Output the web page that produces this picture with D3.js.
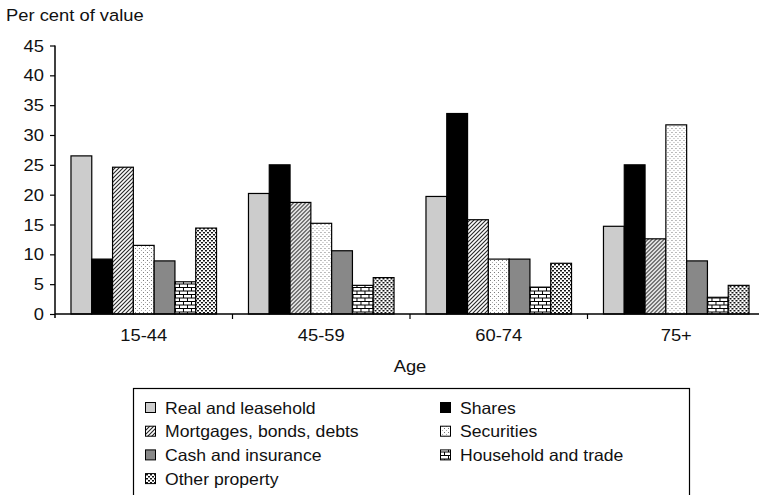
<!DOCTYPE html>
<html>
<head>
<meta charset="utf-8">
<script src="https://cdn.jsdelivr.net/npm/d3@7"></script>
<style>
  html, body { margin: 0; padding: 0; background: #fff; }
  svg { display: block; font-family: "Liberation Sans", Arial, Helvetica, sans-serif; }
</style>
</head>
<body>
<svg id="chart" width="759" height="495"></svg>
<script>
// Share of estate value by asset type, per age band
const ages = ["15-44", "45-59", "60-74", "75+"];
const seriesNames = [
  "Real and leasehold", "Shares", "Mortgages, bonds, debts", "Securities",
  "Cash and insurance", "Household and trade", "Other property"
];
const realLeasehold = [26.5, 20.2, 19.7, 14.7];
const shares        = [9.2, 25.0, 33.6, 25.0];
const mortgages     = [24.6, 18.7, 15.8, 12.6];
const securities    = [11.5, 15.2, 9.2, 31.7];
const cashInsurance = [8.9, 10.6, 9.2, 8.9];
const household     = [5.4, 4.8, 4.5, 2.8];
const otherProperty = [14.4, 6.1, 8.5, 4.8];
const yTicks = [0, 5, 10, 15, 20, 25, 30, 35, 40, 45];

const seriesValues = [realLeasehold, shares, mortgages, securities, cashInsurance, household, otherProperty];
const fills = ["#cccccc", "#000000", "url(#hatch)", "url(#sparseDots)", "#888888", "url(#brick)", "url(#denseDots)"];

const svg = d3.select("#chart");
const TX = 1.08; // slight horizontal text stretch

// ---- fill patterns ----
const defs = svg.append("defs");
const hatch = defs.append("pattern").attr("id", "hatch").attr("patternUnits", "userSpaceOnUse")
  .attr("width", 4).attr("height", 4);
hatch.append("rect").attr("width", 4).attr("height", 4).attr("fill", "#fff");
hatch.append("path").attr("d", "M-1,1 L1,-1 M0,4 L4,0 M3,5 L5,3").attr("stroke", "#222").attr("stroke-width", 1.1);

const sparse = defs.append("pattern").attr("id", "sparseDots").attr("patternUnits", "userSpaceOnUse")
  .attr("width", 4).attr("height", 4);
sparse.append("rect").attr("width", 4).attr("height", 4).attr("fill", "#fff");
sparse.append("rect").attr("x", 0).attr("y", 0).attr("width", 1).attr("height", 1).attr("fill", "#777");
sparse.append("rect").attr("x", 2).attr("y", 2).attr("width", 1).attr("height", 1).attr("fill", "#aaa");

const brick = defs.append("pattern").attr("id", "brick").attr("patternUnits", "userSpaceOnUse")
  .attr("width", 8).attr("height", 7);
brick.append("rect").attr("width", 8).attr("height", 7).attr("fill", "#fff");
brick.append("path")
  .attr("d", "M0,0.5 H8 M0,4 H8 M0.5,0 V4 M4.5,4 V7")
  .attr("stroke", "#000").attr("stroke-width", 1);

const dense = defs.append("pattern").attr("id", "denseDots").attr("patternUnits", "userSpaceOnUse")
  .attr("width", 4).attr("height", 4);
dense.append("rect").attr("width", 4).attr("height", 4).attr("fill", "#fff");
dense.append("rect").attr("x", 0).attr("y", 0).attr("width", 2).attr("height", 1.5).attr("fill", "#111");
dense.append("rect").attr("x", 2).attr("y", 2).attr("width", 2).attr("height", 1.5).attr("fill", "#111");

// ---- scales ----
const x0 = d3.scaleBand().domain(ages).range([55, 765]).paddingInner(0.18).paddingOuter(0.09);
const x1 = d3.scaleBand().domain(seriesNames).range([0, x0.bandwidth()]);
const y = d3.scaleLinear().domain([0, 45]).range([314, 45.5]);

// stretched text helper
function label(g, str, x, yy, size, anchor) {
  return g.append("text")
    .attr("transform", `translate(${x},${yy}) scale(${TX},1)`)
    .attr("text-anchor", anchor || "start")
    .attr("font-size", size)
    .attr("fill", "#111")
    .text(str);
}

// ---- bars ----
const groups = svg.append("g").selectAll("g").data(ages).join("g")
  .attr("transform", d => `translate(${x0(d)},0)`);
groups.selectAll("rect")
  .data((age, i) => seriesNames.map((s, k) => ({ s, k, v: seriesValues[k][i] })))
  .join("rect")
  .attr("x", d => x1(d.s))
  .attr("y", d => y(d.v))
  .attr("width", x1.bandwidth())
  .attr("height", d => y(0) - y(d.v))
  .attr("fill", d => fills[d.k])
  .attr("stroke", "#000")
  .attr("stroke-width", 1.2);

// ---- axes ----
const yAxis = svg.append("g").attr("transform", "translate(55,0)")
  .call(d3.axisLeft(y).tickValues(yTicks).tickSize(5).tickFormat(""));
yAxis.select(".domain").attr("d", `M0,${y(45)} V${y(0) + 4}`).attr("stroke", "#000").attr("stroke-width", 1.5);
yAxis.selectAll(".tick line").attr("stroke", "#000").attr("stroke-width", 1.2);
const yLab = svg.append("g");
yTicks.forEach(t => label(yLab, String(t), 44, y(t) + 6, 17, "end"));

const xAxis = svg.append("g").attr("transform", `translate(0,${y(0)})`);
xAxis.append("line").attr("x1", 55).attr("x2", 765).attr("stroke", "#000").attr("stroke-width", 1.5);
const bounds = ages.slice(1).map(a => x0(a) - x0.step() * x0.paddingInner() / 2);
xAxis.selectAll("line.tk").data(bounds).join("line").attr("class", "tk")
  .attr("x1", d => d).attr("x2", d => d).attr("y1", 0).attr("y2", 5)
  .attr("stroke", "#000").attr("stroke-width", 1.2);
const xLab = svg.append("g");
ages.forEach(a => label(xLab, a, x0(a) + x0.bandwidth() / 2, 340.5, 17, "middle"));

label(svg, "Per cent of value", 6, 20.5, 17, "start");
label(svg, "Age", (55 + 765) / 2, 372, 17, "middle");

// ---- legend ----
const legend = svg.append("g");
legend.append("rect").attr("x", 133.5).attr("y", 388.5).attr("width", 556).attr("height", 120)
  .attr("fill", "#fff").attr("stroke", "#000").attr("stroke-width", 1.2);
seriesNames.forEach((s, k) => {
  const col = k % 2, row = Math.floor(k / 2);
  const sx = col === 0 ? 145 : 440;
  const cy = 408 + row * 23.7;
  legend.append("rect").attr("x", sx + 0.5).attr("y", cy - 5.5).attr("width", 10).attr("height", 10)
    .attr("fill", fills[k]).attr("stroke", "#000").attr("stroke-width", 1);
  label(legend, s, sx + 20, cy + 5.5, 16.3, "start");
});
</script>
</body>
</html>
